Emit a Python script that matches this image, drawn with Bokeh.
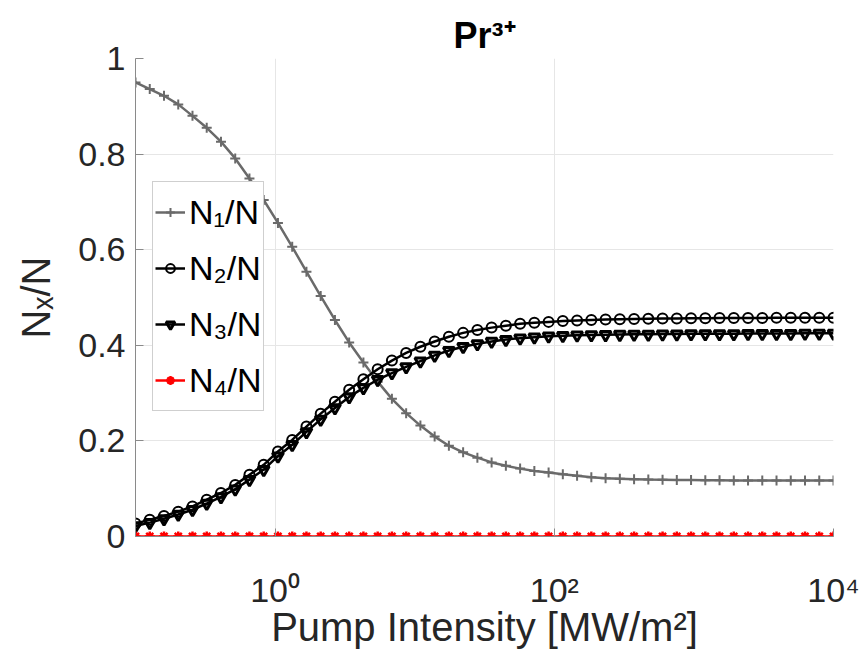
from bokeh.plotting import figure
from bokeh.models import (Range1d, FixedTicker, NumeralTickFormatter, Legend, LegendItem)
from bokeh.embed import file_html
from bokeh.resources import INLINE

# pump intensity samples [MW/m^2] (log-spaced grid, 50 points)
intensity = [0.1, 0.1265, 0.16, 0.2024, 0.256, 0.3237, 0.4095, 0.518, 0.6551, 0.8286,
             1.048, 1.326, 1.677, 2.121, 2.683, 3.393, 4.292, 5.429, 6.866, 8.685,
             10.985, 13.895, 17.575, 22.23, 28.12, 35.56, 44.99, 56.9, 71.97, 91.03,
             115.1, 145.6, 184.2, 233.0, 294.7, 372.8, 471.5, 596.4, 754.3, 954.1,
             1207, 1526, 1931, 2442, 3089, 3907, 4942, 6251, 7906, 10000]

n1 = [0.950, 0.936, 0.922, 0.904, 0.880, 0.855, 0.826, 0.791, 0.749, 0.704,
      0.656, 0.606, 0.554, 0.503, 0.453, 0.406, 0.364, 0.324, 0.288, 0.258,
      0.232, 0.209, 0.190, 0.176, 0.165, 0.155, 0.148, 0.142, 0.137, 0.134,
      0.130, 0.127, 0.124, 0.122, 0.121, 0.120, 0.119, 0.1185, 0.118, 0.118,
      0.1175, 0.1175, 0.117, 0.117, 0.117, 0.117, 0.117, 0.117, 0.117, 0.117]

n2 = [0.027, 0.035, 0.043, 0.052, 0.063, 0.077, 0.091, 0.108, 0.129, 0.150,
      0.178, 0.202, 0.230, 0.257, 0.282, 0.307, 0.329, 0.350, 0.368, 0.384,
      0.397, 0.408, 0.418, 0.426, 0.432, 0.437, 0.441, 0.445, 0.447, 0.449,
      0.451, 0.452, 0.453, 0.454, 0.4545, 0.455, 0.4555, 0.456, 0.456, 0.4565,
      0.4565, 0.457, 0.457, 0.457, 0.457, 0.4575, 0.4575, 0.4575, 0.4575, 0.4575]

n3 = [0.022, 0.029, 0.037, 0.046, 0.056, 0.069, 0.083, 0.099, 0.119, 0.140,
      0.168, 0.192, 0.219, 0.245, 0.269, 0.292, 0.311, 0.328, 0.342, 0.355,
      0.367, 0.379, 0.389, 0.397, 0.403, 0.408, 0.412, 0.415, 0.417, 0.419,
      0.420, 0.421, 0.4215, 0.422, 0.4225, 0.423, 0.423, 0.4235, 0.4235, 0.424,
      0.424, 0.424, 0.424, 0.4245, 0.4245, 0.4245, 0.4245, 0.425, 0.425, 0.425]

n4 = [0.0] * 50

series_labels = ["N₁/N", "N₂/N", "N₃/N", "N₄/N"]
x_ticks = [1, 100, 10000]
x_tick_labels = ["10⁰", "10²", "10⁴"]
y_ticks = [0, 0.2, 0.4, 0.6, 0.8, 1.0]

FONT = "Liberation Sans"

p = figure(x_axis_type="log", output_backend="svg", toolbar_location=None,
           frame_width=698, frame_height=478,
           min_border_left=135, min_border_right=27, min_border_top=58, min_border_bottom=100,
           x_range=Range1d(0.1, 10000), y_range=Range1d(0, 1),
           title="Pr³⁺")
p.outline_line_color = None
p.background_fill_color = "white"
p.border_fill_color = "white"

p.title.align = "center"
p.title.text_font = FONT
p.title.text_font_size = "36px"
p.title.text_font_style = "bold"
p.title.text_color = "black"
p.title.standoff = 6

# axes
for ax in (p.xaxis[0], p.yaxis[0]):
    ax.axis_line_color = "#8a8a8a"
    ax.axis_line_width = 1
    ax.major_tick_line_color = "#8a8a8a"
    ax.major_tick_in = 8
    ax.major_tick_out = 0
    ax.minor_tick_line_color = None
    ax.major_label_text_font = FONT
    ax.major_label_text_font_size = "34px"
    ax.major_label_text_color = "#262626"
    ax.axis_label_text_font = FONT
    ax.axis_label_text_font_size = "40px"
    ax.axis_label_text_font_style = "normal"
    ax.axis_label_text_color = "#262626"

p.xaxis.ticker = FixedTicker(ticks=x_ticks)
p.xaxis.major_label_overrides = {t: l for t, l in zip(x_ticks, x_tick_labels)}
p.xaxis.major_label_standoff = 34
p.xaxis.axis_label = "Pump Intensity [MW/m²]"
p.xaxis.axis_label_standoff = -7

p.yaxis.ticker = FixedTicker(ticks=y_ticks)
p.yaxis.formatter = NumeralTickFormatter(format="0.[0]")
p.yaxis.major_label_standoff = 10
p.yaxis.axis_label = "Nₓ/N"
p.yaxis.axis_label_standoff = 17

p.xgrid.grid_line_color = "#e6e6e6"
p.ygrid.grid_line_color = "#e6e6e6"
p.xgrid.ticker = FixedTicker(ticks=x_ticks)
p.ygrid.ticker = FixedTicker(ticks=y_ticks)

# series
gray = "#6a6a6a"
l1 = p.line(intensity, n1, line_color=gray, line_width=2.5)
s1 = p.scatter(intensity, n1, marker="cross", size=10, line_color=gray, line_width=2)

l2 = p.line(intensity, n2, line_color="black", line_width=2.5)
s2 = p.scatter(intensity, n2, marker="circle", size=10, line_color="black",
               fill_color=None, line_width=2)

l3 = p.line(intensity, n3, line_color="black", line_width=2.5)
s3 = p.scatter(intensity, n3, marker="inverted_triangle", size=11, line_color="black",
               fill_color=None, line_width=3)

l4 = p.line(intensity, n4, line_color="red", line_width=2.5)
s4 = p.scatter(intensity, n4, marker="asterisk", size=10, line_color="red", line_width=2.5)

items = [LegendItem(label=series_labels[0], renderers=[l1, s1]),
         LegendItem(label=series_labels[1], renderers=[l2, s2]),
         LegendItem(label=series_labels[2], renderers=[l3, s3]),
         LegendItem(label=series_labels[3], renderers=[l4, s4])]
legend = Legend(items=items, location=(17, 125))
legend.label_text_font = FONT
legend.label_text_font_size = "34px"
legend.label_text_color = "black"
legend.border_line_color = "#a0a0a0"
legend.border_line_width = 1
legend.background_fill_color = "white"
legend.background_fill_alpha = 1
legend.padding = 2
legend.spacing = 0
legend.margin = 0
legend.glyph_width = 30
legend.glyph_height = 22
legend.label_height = 56
legend.label_standoff = 4
p.add_layout(legend)

open("out.html", "w").write(file_html(p, INLINE))
